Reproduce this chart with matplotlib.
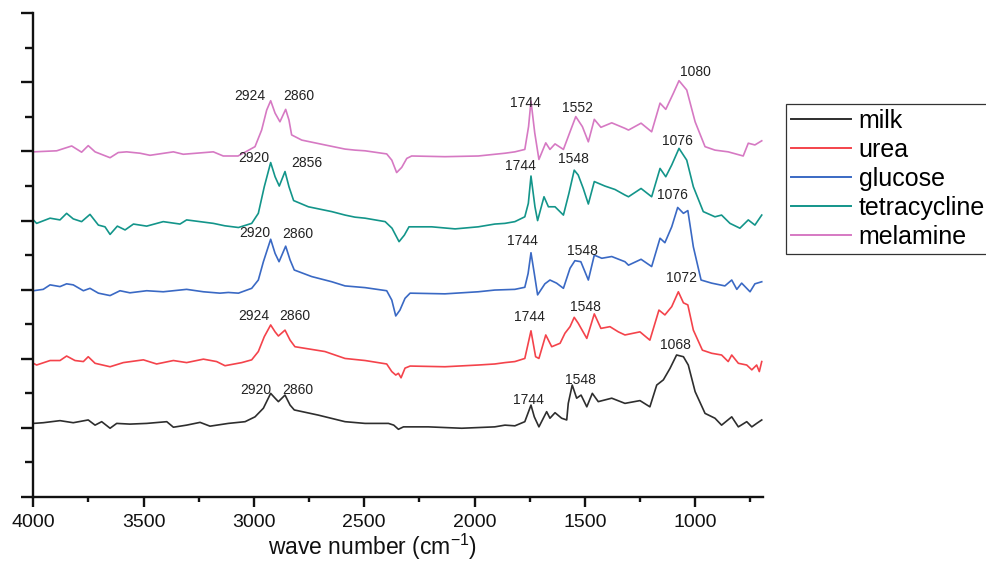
import matplotlib
matplotlib.use('Agg')
import matplotlib.pyplot as plt
from matplotlib.ticker import MultipleLocator, NullFormatter

plt.rcParams['font.family'] = ['Liberation Sans', 'DejaVu Sans']
plt.rcParams['mathtext.fontset'] = 'custom'
plt.rcParams['mathtext.rm'] = 'Liberation Sans'
plt.rcParams['mathtext.it'] = 'Liberation Sans:italic'

# ---------------- data (wavenumber cm-1, offset absorbance a.u.) ----------------
series_names = ['milk', 'urea', 'glucose', 'tetracycline', 'melamine']

milk_wn = [4000, 3955, 3879, 3819, 3751, 3720, 3690, 3652, 3622, 3562, 3486, 3395, 3365, 3305, 3244,
           3199, 3116, 3040, 2995, 2957, 2924, 2904, 2889, 2859, 2836, 2817, 2708, 2587, 2496, 2390,
           2366, 2345, 2322, 2209, 2058, 1908, 1862, 1817, 1772, 1744, 1729, 1708, 1673, 1658, 1635,
           1605, 1582, 1575, 1557, 1537, 1517, 1491, 1466, 1439, 1378, 1318, 1250, 1205, 1174, 1144,
           1114, 1084, 1053, 1031, 1000, 955, 910, 880, 834, 804, 766, 743, 721, 698]
milk_abs = [2.13, 2.15, 2.21, 2.15, 2.23, 2.08, 2.18, 1.99, 2.13, 2.11, 2.13, 2.18, 2.02, 2.08, 2.16,
            2.05, 2.13, 2.18, 2.32, 2.57, 3.00, 2.86, 2.76, 2.95, 2.66, 2.52, 2.37, 2.18, 2.13, 2.13,
            2.08, 1.96, 2.03, 2.03, 1.99, 2.03, 2.08, 2.06, 2.18, 2.66, 2.32, 2.03, 2.47, 2.28, 2.44,
            2.28, 2.23, 2.71, 3.24, 2.86, 2.95, 2.61, 3.00, 2.76, 2.86, 2.71, 2.79, 2.61, 3.24, 3.39,
            3.72, 4.11, 4.06, 3.82, 3.05, 2.42, 2.28, 2.08, 2.32, 2.03, 2.18, 2.03, 2.13, 2.23]

urea_wn = [4000, 3985, 3924, 3879, 3849, 3811, 3773, 3751, 3720, 3652, 3592, 3501, 3441, 3365, 3305,
           3229, 3169, 3131, 3055, 3010, 2980, 2953, 2924, 2904, 2889, 2859, 2836, 2814, 2678, 2587,
           2496, 2398, 2375, 2357, 2345, 2333, 2315, 2292, 2134, 1983, 1908, 1862, 1817, 1772, 1744,
           1723, 1708, 1677, 1650, 1612, 1590, 1567, 1548, 1530, 1491, 1457, 1427, 1386, 1348, 1318,
           1250, 1205, 1164, 1137, 1106, 1076, 1053, 1033, 1008, 967, 925, 880, 850, 834, 804, 766,
           743, 721, 709, 698]
urea_abs = [3.87, 3.82, 3.95, 3.95, 4.08, 3.95, 3.92, 4.06, 3.87, 3.77, 3.89, 3.97, 3.85, 3.95, 3.89,
            3.99, 3.92, 3.80, 3.89, 3.97, 4.21, 4.64, 4.98, 4.78, 4.66, 4.83, 4.54, 4.35, 4.21, 4.01,
            3.95, 3.85, 3.63, 3.53, 3.58, 3.45, 3.73, 3.79, 3.77, 3.82, 3.85, 3.89, 3.92, 4.01, 4.81,
            4.06, 4.01, 4.69, 4.35, 4.45, 4.74, 4.93, 5.20, 5.03, 4.59, 5.30, 4.88, 4.93, 4.78, 4.69,
            4.78, 4.54, 5.41, 5.27, 5.51, 5.94, 5.62, 5.56, 4.83, 4.25, 4.16, 4.11, 3.92, 4.11, 3.87, 3.82,
            3.68, 3.82, 3.63, 3.92]

glucose_wn = [4000, 3955, 3924, 3879, 3849, 3819, 3773, 3743, 3705, 3652, 3607, 3562, 3486, 3411, 3305,
              3229, 3154, 3116, 3070, 3010, 2980, 2957, 2924, 2904, 2886, 2856, 2836, 2817, 2738, 2647,
              2587, 2496, 2398, 2375, 2357, 2338, 2315, 2292, 2134, 1983, 1908, 1817, 1772, 1757, 1744,
              1729, 1714, 1681, 1658, 1628, 1597, 1567, 1545, 1518, 1484, 1457, 1423, 1378, 1318, 1302,
              1245, 1197, 1159, 1137, 1106, 1079, 1053, 1033, 1008, 973, 925, 865, 834, 811, 789, 751,
              729, 698]
glucose_abs = [5.97, 6.01, 6.14, 6.09, 6.17, 6.14, 5.97, 6.04, 5.90, 5.83, 5.97, 5.91, 5.97, 5.94, 6.01,
               5.94, 5.90, 5.92, 5.90, 6.04, 6.28, 6.81, 7.46, 7.05, 6.81, 7.26, 6.86, 6.57, 6.38, 6.23,
               6.11, 6.06, 5.97, 5.70, 5.24, 5.41, 5.75, 5.90, 5.88, 5.94, 5.99, 6.01, 6.07, 6.47, 7.07,
               6.47, 5.85, 6.17, 6.28, 6.19, 6.04, 6.62, 6.84, 6.81, 6.28, 7.00, 6.91, 6.96, 6.81, 6.71,
               6.88, 6.67, 7.49, 7.36, 7.82, 8.38, 8.21, 8.29, 7.24, 6.28, 6.19, 6.11, 6.28, 6.01, 6.19, 5.94,
               6.17, 6.23]

tetracycline_wn = [4000, 3985, 3924, 3879, 3849, 3819, 3781, 3743, 3705, 3675, 3652, 3619, 3584, 3546, 3486,
                   3411, 3335, 3305, 3184, 3132, 3070, 3010, 2980, 2953, 2924, 2904, 2885, 2859, 2841, 2820,
                   2753, 2647, 2587, 2542, 2496, 2405, 2374, 2342, 2318, 2297, 2194, 2088, 1983, 1908, 1862,
                   1817, 1772, 1756, 1744, 1726, 1714, 1685, 1665, 1635, 1597, 1572, 1548, 1530, 1507, 1484,
                   1457, 1409, 1363, 1318, 1302, 1245, 1197, 1159, 1133, 1106, 1073, 1038, 1008, 963, 910,
                   880, 842, 797, 759, 729, 698]
tetracycline_abs = [8.02, 7.92, 8.07, 8.02, 8.21, 8.05, 7.97, 8.18, 7.87, 7.82, 7.60, 7.84, 7.73, 7.90, 7.84,
                    7.97, 7.90, 8.02, 7.92, 7.85, 7.80, 7.92, 8.21, 8.98, 9.68, 9.27, 9.00, 9.42, 8.98, 8.58,
                    8.40, 8.26, 8.16, 8.10, 8.07, 7.97, 7.78, 7.39, 7.58, 7.82, 7.82, 7.76, 7.82, 7.90, 7.92,
                    7.97, 8.11, 8.50, 9.29, 8.40, 8.00, 8.69, 8.40, 8.40, 8.16, 8.79, 9.46, 9.32, 8.93, 8.48,
                    9.13, 9.00, 8.90, 8.74, 8.69, 8.93, 8.69, 9.51, 9.27, 9.61, 10.09, 9.75, 8.98, 8.26, 8.11,
                    8.16, 7.92, 7.78, 8.02, 7.87, 8.16]

melamine_wn = [4000, 3894, 3826, 3781, 3751, 3720, 3652, 3615, 3577, 3516, 3471, 3365, 3320, 3184, 3139,
               3072, 2995, 2965, 2942, 2924, 2904, 2882, 2856, 2841, 2829, 2783, 2678, 2587, 2542, 2496,
               2398, 2375, 2353, 2330, 2307, 2285, 2134, 1983, 1862, 1817, 1772, 1755, 1744, 1727, 1708,
               1677, 1658, 1635, 1597, 1567, 1541, 1511, 1484, 1457, 1427, 1378, 1318, 1302, 1245, 1197,
               1159, 1133, 1099, 1073, 1038, 1000, 955, 910, 850, 782, 759, 729, 698]
melamine_abs = [9.99, 10.02, 10.16, 9.98, 10.17, 9.99, 9.82, 9.97, 9.99, 9.95, 9.89, 9.99, 9.92, 9.99, 9.87,
                9.87, 10.14, 10.62, 11.20, 11.47, 11.11, 10.86, 11.22, 10.91, 10.48, 10.33, 10.19, 10.07, 10.04, 10.02,
                9.93, 9.75, 9.39, 9.54, 9.80, 9.87, 9.85, 9.87, 9.95, 9.99, 10.06, 10.72, 11.46, 10.54, 9.77,
                10.25, 10.06, 10.22, 10.06, 10.57, 11.01, 10.72, 10.28, 10.93, 10.70, 10.83, 10.67, 10.62, 10.82, 10.57,
                11.40, 11.22, 11.68, 12.05, 11.78, 10.86, 10.14, 10.04, 9.99, 9.87, 10.24, 10.19, 10.31]

# peak annotations: (series, text, wavenumber position, absorbance position)
peak_labels = [
    ('melamine', '2924', 3018, 11.61), ('melamine', '2860', 2796, 11.61),
    ('melamine', '1744', 1767, 11.40), ('melamine', '1552', 1531, 11.26), ('melamine', '1080', 1000, 12.30),
    ('tetracycline', '2920', 3000, 9.81), ('tetracycline', '2856', 2762, 9.67),
    ('tetracycline', '1744', 1794, 9.58), ('tetracycline', '1548', 1553, 9.78), ('tetracycline', '1076', 1082, 10.30),
    ('glucose', '2920', 2995, 7.64), ('glucose', '2860', 2800, 7.61),
    ('glucose', '1744', 1785, 7.41), ('glucose', '1548', 1513, 7.12), ('glucose', '1076', 1105, 8.74),
    ('urea', '2924', 3002, 5.24), ('urea', '2860', 2814, 5.24),
    ('urea', '1744', 1751, 5.21), ('urea', '1548', 1497, 5.51), ('urea', '1072', 1062, 6.34),
    ('milk', '2920', 2990, 3.10), ('milk', '2860', 2802, 3.10),
    ('milk', '1744', 1757, 2.81), ('milk', '1548', 1519, 3.40), ('milk', '1068', 1091, 4.39),
]

x_ticks = [4000, 3500, 3000, 2500, 2000, 1500, 1000]
x_label = r'wave number (cm$^{-1}$)'

# ---------------- styling ----------------
colors = {'milk': '#2e2e2e', 'urea': '#f4434b', 'glucose': '#3a69c4',
          'tetracycline': '#13958a', 'melamine': '#d679c3'}
data = {
    'milk': (milk_wn, milk_abs),
    'urea': (urea_wn, urea_abs),
    'glucose': (glucose_wn, glucose_abs),
    'tetracycline': (tetracycline_wn, tetracycline_abs),
    'melamine': (melamine_wn, melamine_abs),
}

W, H = 987, 565
fig = plt.figure(figsize=(W / 100, H / 100), dpi=100)
ax_left, ax_right, ax_top, ax_bottom = 33.3, 763.5, 13.3, 497.0
ax = fig.add_axes([ax_left / W, 1 - ax_bottom / H, (ax_right - ax_left) / W, (ax_bottom - ax_top) / H])

handles = []
for name in series_names:
    wn, ab = data[name]
    ln, = ax.plot(wn, ab, color=colors[name], lw=1.2, label=name, solid_joinstyle='round')
    handles.append(ln)

for name, txt, xw, yv in peak_labels:
    ax.text(xw, yv, txt, fontsize=10, color='#222222', ha='center', va='center')

ax.set_xlim(4000, 690)
ax.set_ylim(0, 14)
ax.set_xticks(x_ticks)
ax.xaxis.set_minor_locator(MultipleLocator(250))
ax.yaxis.set_major_locator(MultipleLocator(2))
ax.yaxis.set_minor_locator(MultipleLocator(1))
ax.yaxis.set_major_formatter(NullFormatter())

for s in ['top', 'right']:
    ax.spines[s].set_visible(False)
for s in ['left', 'bottom']:
    ax.spines[s].set_linewidth(1.7)
    ax.spines[s].set_color('#111111')

ax.tick_params(axis='x', which='major', direction='out', length=7, width=1.7, labelsize=14, pad=5, colors='#111111')
ax.tick_params(axis='x', which='minor', direction='out', length=3.8, width=1.7, colors='#111111')
ax.tick_params(axis='y', which='major', direction='out', length=8.5, width=1.7, colors='#111111')
ax.tick_params(axis='y', which='minor', direction='out', length=5.8, width=1.7, colors='#111111')

ax.set_xlabel(x_label, fontsize=16.5, color='#111111')
ax.xaxis.set_label_coords(0.464, -0.072)

leg = fig.legend(handles=handles, labels=series_names, loc='upper left',
                 bbox_to_anchor=(786 / W, 1 - 104 / H), fontsize=18, frameon=True,
                 fancybox=False, edgecolor='#333333', framealpha=1,
                 handlelength=2.4, handletextpad=0.3, labelspacing=0.2,
                 borderpad=0.2, borderaxespad=0)
leg.get_frame().set_linewidth(0.9)
for l in leg.get_lines():
    l.set_linewidth(1.4)

fig.savefig('out.png', dpi=100)
